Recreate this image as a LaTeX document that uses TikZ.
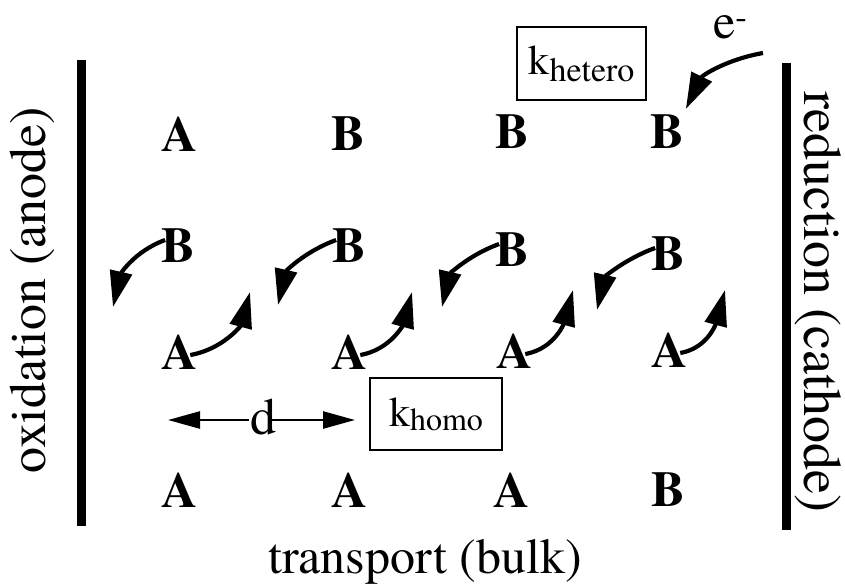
\documentclass[tikz,border=0pt]{standalone}
\usepackage{fontspec}
\setmainfont{texgyretermes}[Extension=.otf, UprightFont=*-regular,
  BoldFont=*-bold, ItalicFont=*-italic, BoldItalicFont=*-bolditalic]
\usetikzlibrary{arrows.meta}

\newcommand{\fs}[1]{\fontsize{#1}{#1}\selectfont}

\begin{document}
\begin{tikzpicture}[x=1pt,y=-1pt,
  species/.style={inner sep=0pt, font=\fs{50}\bfseries},
  sidetext/.style={inner sep=0pt, font=\fs{52}},
  electrode/.style={line width=9pt},
  hop/.style={line width=4.2pt, -{Triangle[length=36pt,width=22pt]}},
  spacing/.style={line width=2.5pt, -{Triangle[length=32pt,width=17pt]}},
  ratebox/.style={draw, line width=1.8pt, inner sep=0pt}
]
\useasboundingbox (0,0) rectangle (845,584);

% electrodes and their labels
\draw[electrode] (81.5,60) -- (81.5,526);
\draw[electrode] (786,63) -- (786,530);
\node[sidetext, rotate=90] (anode) at (32,290) {oxidation (anode)};
\node[sidetext, rotate=-90, font=\fs{54}] (cathode) at (818,302) {reduction (cathode)};
\node[inner sep=0pt, font=\fs{50}, anchor=base] (bulk) at (425,573) {transport (bulk)};

% redox species
\node[species] (s11) at (180,134) {A};
\node[species] (s12) at (348,134) {B};
\node[species] (s13) at (512,132) {B};
\node[species] (s14) at (667,132) {B};

\node[species] (s21) at (178,246) {B};
\node[species] (s22) at (349,246) {B};
\node[species] (s23) at (512,250) {B};
\node[species] (s24) at (668,254) {B};

\node[species] (s31) at (180,352) {A};
\node[species] (s32) at (350,352) {A};
\node[species] (s33) at (515,351) {A};
\node[species] (s34) at (670,350) {A};

\node[species] (s41) at (180,490) {A};
\node[species] (s42) at (350,490) {A};
\node[species] (s43) at (512,490) {A};
\node[species] (s44) at (668,490) {B};

% rate constants
\node[ratebox, minimum width=129pt, minimum height=73pt] (khet) at (581.5,63.5)
  {\fs{42}k\raisebox{-7pt}{\fs{34}hetero}};
\node[ratebox, minimum width=132pt, minimum height=72pt] (khom) at (436,414)
  {\fs{42}k\raisebox{-4pt}{\fs{32}homo}};

% electron injection at the cathode
\node[inner sep=0pt, font=\fs{50}, anchor=base west] (elec) at (713,38) {e\textsuperscript{-}};
\coordinate (estart) at (763,53);
\draw[hop] (estart) to[out=190, in=64] ([shift={(2pt,6pt)}]s14.north east);

% electron hopping B -> left
\coordinate (t21) at (113,307);
\coordinate (t22) at (278,305);
\coordinate (t23) at (442,307);
\coordinate (t24) at (597,310);
\foreach \i in {1,...,4}{
  \draw[hop] ([shift={(4pt,6pt)}]s2\i.west) to[out=200, in=77] (t2\i);
}

% electron hopping A -> right
\coordinate (u31) at (250,292);
\coordinate (u32) at (412,292);
\coordinate (u33) at (573,290);
\coordinate (u34) at (725,290);
\foreach \i in {1,...,4}{
  \draw[hop] ([shift={(-8pt,-3pt)}]s3\i.east) to[out=10, in=255] (u3\i);
}

% site spacing
\node[inner sep=0pt, font=\fs{52}] (dist) at (263,417) {d};
\coordinate (dleft) at (168,420);
\coordinate (dright) at (355,420);
\draw[spacing] ([shift={(-1pt,-3pt)}]dist.west) -- (dleft);
\draw[spacing] ([shift={(-4pt,-3pt)}]dist.east) -- (dright);
\end{tikzpicture}
\end{document}
